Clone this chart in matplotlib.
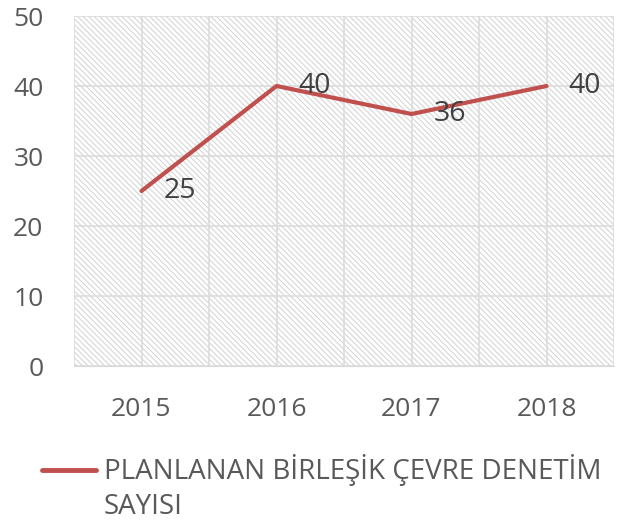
import matplotlib.pyplot as plt
from matplotlib.lines import Line2D
from matplotlib.ticker import MultipleLocator

years = ['2015', '2016', '2017', '2018']
counts = [25, 40, 36, 40]
series_name = 'PLANLANAN BİRLEŞİK ÇEVRE DENETİM\nSAYISI'

plt.rcParams['font.family'] = ['Open Sans', 'DejaVu Sans']
plt.rcParams['hatch.color'] = '#d6d6d6'
plt.rcParams['hatch.linewidth'] = 0.8

fig = plt.figure(figsize=(6.23, 5.31), dpi=100)
ax = fig.add_axes([74 / 623, 1 - 366 / 531, 540 / 623, 350 / 531])

x = list(range(len(years)))
ax.set_xlim(-0.5, len(years) - 0.5)
ax.set_ylim(0, 50)

ax.patch.set_facecolor('white')
ax.patch.set_hatch('\\\\\\\\\\\\')
ax.patch.set_edgecolor('#d6d6d6')

ax.yaxis.set_major_locator(MultipleLocator(10))
ax.set_xticks(x)
ax.set_xticklabels(years)
ax.set_xticks([i - 0.5 for i in range(len(years) + 1)], minor=True)
ax.grid(True, which='both', axis='x', color='#dcdcdc', lw=1.2)
ax.grid(True, which='major', axis='y', color='#dcdcdc', lw=1.2)
ax.set_axisbelow(True)

for s in ['top', 'right', 'left']:
    ax.spines[s].set_visible(False)
ax.spines['bottom'].set_color('#d9d9d9')
ax.tick_params(which='both', length=0)
ax.tick_params(axis='x', pad=22, labelsize=19, labelcolor='#595959')
ax.tick_params(axis='y', pad=22, labelsize=19, labelcolor='#595959')

line, = ax.plot(x, counts, color='#c0504d', lw=3, solid_capstyle='round')

for xi, v in zip(x, counts):
    ax.annotate(str(v), (xi, v), xytext=(16, 0), textcoords='offset points',
                va='center', ha='left', fontsize=20.5, color='#404040')

# legend drawn by hand so the key sits on the first text line
fig.add_artist(Line2D([42 / 623, 96 / 623], [1 - 470 / 531] * 2,
                      color='#c0504d', lw=3.5, solid_capstyle='round'))
for i, part in enumerate(series_name.split('\n')):
    fig.text(104 / 623, 1 - (470 + 37 * i) / 531, part, ha='left', va='center',
             fontsize=20, color='#595959')

fig.savefig('out.png', dpi=100)
